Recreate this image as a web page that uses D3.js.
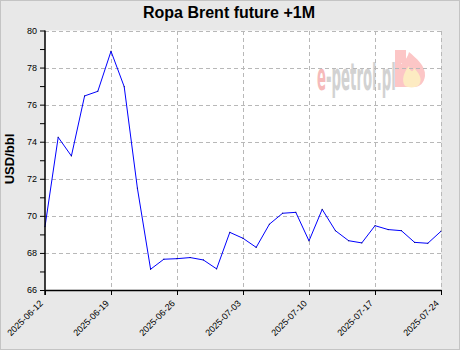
<!DOCTYPE html>
<html>
<head>
<meta charset="utf-8">
<script src="https://cdn.jsdelivr.net/npm/d3@7"></script>
<style>
  body { margin: 0; background: #fff; }
  svg { display: block; font-family: "Liberation Sans", Arial, sans-serif; }
</style>
</head>
<body>
<svg width="460" height="350"></svg>
<script>
// trading days, one point each
const dates = [
	'2025-06-12', '2025-06-13', '2025-06-16', '2025-06-17', '2025-06-18', '2025-06-19',
	'2025-06-20', '2025-06-23', '2025-06-24', '2025-06-25', '2025-06-26',
	'2025-06-27', '2025-06-30', '2025-07-01', '2025-07-02', '2025-07-03',
	'2025-07-04', '2025-07-07', '2025-07-08', '2025-07-09', '2025-07-10',
	'2025-07-11', '2025-07-14', '2025-07-15', '2025-07-16', '2025-07-17',
	'2025-07-18', '2025-07-21', '2025-07-22', '2025-07-23', '2025-07-24'
];
const prices = [
	69.42, 74.24, 73.23, 76.47, 76.72, 78.88,
	76.97, 71.49, 67.12, 67.66, 67.69,
	67.75, 67.62, 67.14, 69.11, 68.79,
	68.30, 69.55, 70.14, 70.19, 68.65,
	70.35, 69.20, 68.66, 68.54, 69.47,
	69.26, 69.20, 68.57, 68.52, 69.17
];
const xTickIdx = [0, 5, 10, 15, 20, 25, 30];
const yTicks = [66, 68, 70, 72, 74, 76, 78, 80];
const yMinor = [67, 69, 71, 73, 75, 77, 79];

const svg = d3.select('svg');
const W = 460, H = 350;
const pl = 45, pr = 441, pt = 30.5, pb = 290;

svg.append('rect')
	.attr('x', 0.5).attr('y', 0.5)
	.attr('width', W - 1).attr('height', H - 1)
	.attr('fill', '#e8e8e8')
	.attr('stroke', '#c4c4c4');

svg.append('rect')
	.attr('x', pl).attr('y', pt)
	.attr('width', pr - pl).attr('height', pb - pt)
	.attr('fill', '#fff');

const x = d3.scaleLinear().domain([0, dates.length - 1]).range([pl, pr]);
const y = d3.scaleLinear().domain([66, 80]).range([pb, pt]);

// watermark (e-petrol.pl), squeezed sideways
const wm = svg.append('g');
wm.append('text')
	.attr('transform', 'translate(317,90) scale(0.35,1)')
	.attr('font-size', 38).attr('font-weight', 'bold')
	.attr('font-family', '"DejaVu Sans", sans-serif')
	.selectAll('tspan')
	.data([['e', '#f6baba'], ['-petrol.pl', '#d2d2d2']])
	.join('tspan')
	.attr('fill', d => d[1])
	.text(d => d[0]);
wm.append('rect').attr('x', 395).attr('y', 50).attr('width', 11).attr('height', 13).attr('fill', '#fcc6c6');
wm.append('rect').attr('x', 395).attr('y', 50).attr('width', 6).attr('height', 37).attr('fill', '#fcc6c6');
wm.append('path')
	.attr('d', 'M401,87 L401,64 C406,60 408,56 409,52 C416,58 426,66 425,76 C424,83 420,87 414,87 Z')
	.attr('fill', '#fcc6c6');
wm.append('path')
	.attr('d', 'M405,86 C401,80 404,72 409,66 C410,72 413,73 414,68 C419,73 423,79 419,85 C416,88 409,88 405,86 Z')
	.attr('fill', '#fdebc2');

// grid
const grid = svg.append('g')
	.attr('stroke', '#b8b8b8')
	.attr('stroke-dasharray', '4,3')
	.attr('shape-rendering', 'crispEdges');
grid.selectAll('.hg')
	.data(yTicks.filter(v => v > 66))
	.join('line')
	.attr('class', 'hg')
	.attr('x1', pl).attr('x2', pr)
	.attr('y1', d => Math.round(y(d)) + 0.5).attr('y2', d => Math.round(y(d)) + 0.5);
grid.selectAll('.vg')
	.data(xTickIdx.filter(i => i > 0))
	.join('line')
	.attr('class', 'vg')
	.attr('y1', pt).attr('y2', pb)
	.attr('x1', d => Math.round(x(d)) + 0.5).attr('x2', d => Math.round(x(d)) + 0.5);

// line
svg.append('path')
	.datum(prices)
	.attr('fill', 'none')
	.attr('stroke', '#0000ff')
	.attr('stroke-width', 1)
	.attr('d', d3.line().x((d, i) => x(i)).y(d => y(d)));

svg.selectAll('.pt')
	.data(prices)
	.join('rect')
	.attr('class', 'pt')
	.attr('x', (d, i) => x(i) - 0.5).attr('y', d => y(d) - 0.5)
	.attr('width', 1).attr('height', 1)
	.attr('fill', '#000050');

// axes
const yAxis = svg.append('g').attr('transform', `translate(${pl},0)`);
yAxis.call(d3.axisLeft(y).tickValues(yTicks).tickSize(5).tickPadding(3).tickFormat(d3.format('d')));
const yMin = svg.append('g').attr('transform', `translate(${pl},0)`);
yMin.call(d3.axisLeft(y).tickValues(yMinor).tickSize(5).tickFormat(''));
yMin.select('.domain').remove();

const xAxis = svg.append('g').attr('transform', `translate(0,${pb})`);
xAxis.call(d3.axisBottom(x).tickValues(xTickIdx).tickSize(5).tickSizeOuter(0).tickFormat(i => dates[i]));

svg.selectAll('.domain').attr('stroke', '#000').attr('stroke-width', 1.5);
svg.selectAll('.tick line').attr('stroke', '#000');
yAxis.selectAll('.domain').attr('d', `M0,${pt}V${pb + 5}`);
yAxis.selectAll('text').attr('font-size', 9).attr('font-family', '"Liberation Sans", Arial, sans-serif').attr('fill', '#000');
xAxis.selectAll('text')
	.attr('font-size', 9)
	.attr('font-family', '"Liberation Sans", Arial, sans-serif')
	.attr('fill', '#000')
	.attr('text-anchor', 'end')
	.attr('y', 0).attr('dy', 0)
	.attr('transform', 'translate(-2,14) rotate(-45)');

svg.append('text')
	.attr('x', 229).attr('y', 18)
	.attr('text-anchor', 'middle')
	.attr('font-size', 16).attr('font-weight', 'bold')
	.text('Ropa Brent future +1M');

svg.append('text')
	.attr('transform', 'translate(14,159) rotate(-90)')
	.attr('text-anchor', 'middle')
	.attr('font-size', 13).attr('font-weight', 'bold')
	.text('USD/bbl');
</script>
</body>
</html>
